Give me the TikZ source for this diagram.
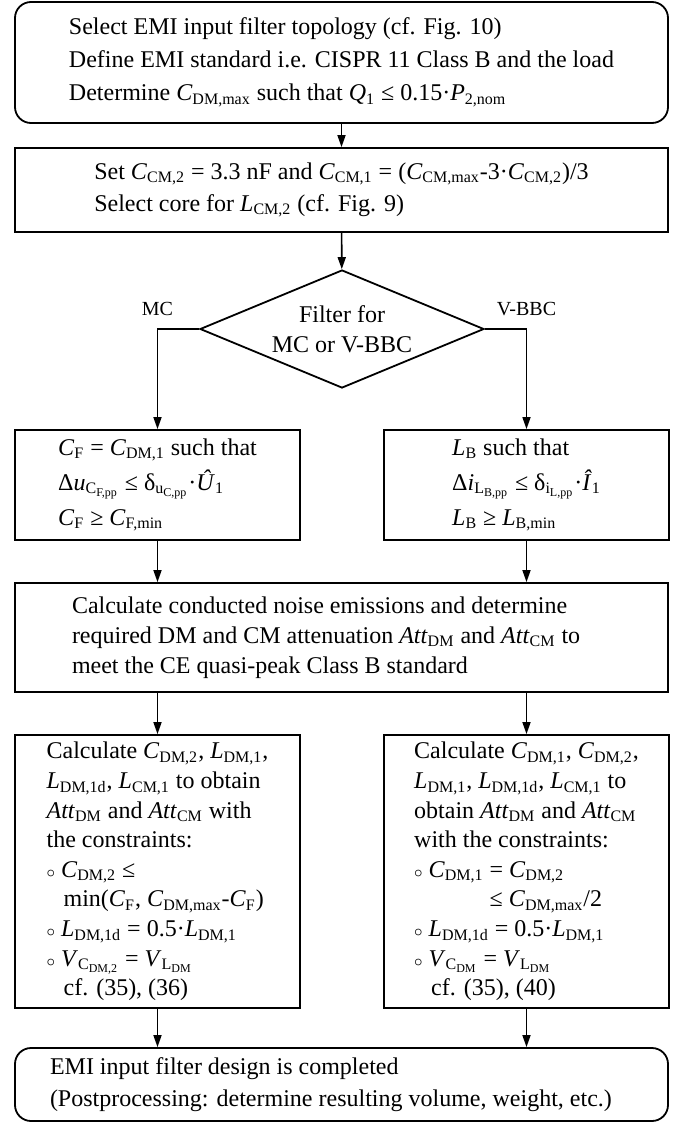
\documentclass[tikz,border=0pt]{standalone}
\usepackage{fontspec}
\setmainfont{Liberation Serif}
\usepackage{tikz}
\usetikzlibrary{arrows.meta, shapes.geometric}
\newcommand{\mvar}[2]{\textit{#1}\textsubscript{#2}}
\newcommand{\bul}{$\scriptstyle\circ$\ }

\begin{document}
\begin{tikzpicture}[x=0.5pt, y=-0.5pt,
  box node/.style={rectangle, draw, line width=0.9pt, align=left, inner sep=0pt,
    font=\fontsize{12}{15}\selectfont},
  wide node/.style={box node, minimum width=326.5pt},
  half node/.style={box node, minimum width=142.5pt},
  end node/.style={wide node, rounded corners=8pt},
  pad/.style 2 args={inner xsep=#1, text width=#2, align=flush left},
  test node/.style={diamond, draw, line width=0.9pt, aspect=2.4, inner sep=0pt,
    minimum width=142pt, minimum height=59pt, align=center, font=\fontsize{12}{15}\selectfont},
  flow/.style={line width=0.8pt, -{Triangle[length=6pt,width=4pt]}}]

\useasboundingbox (0,0) rectangle (682,1125);

\node[end node, minimum height=60.5pt, font=\fontsize{12}{16.5}\selectfont] (select) at (341.5,62.5)
  {Select EMI input filter topology (cf. Fig. 10)\\
   Define EMI standard i.e. CISPR 11 Class B and the load\\
   Determine \mvar{C}{DM,max} such that \mvar{Q}{1} ≤ 0.15·\mvar{P}{2,nom}};
\node[wide node, minimum height=42pt, font=\fontsize{12}{16}\selectfont] (core) at (341.5,190)
  {Set \mvar{C}{CM,2} = 3.3 nF and \mvar{C}{CM,1} = (\mvar{C}{CM,max}-3·\mvar{C}{CM,2})/3\\
   Select core for \mvar{L}{CM,2} (cf. Fig. 9)};
\node[test node] (choice) at (342,329) {Filter for\\MC or V-BBC};

\node[half node, minimum height=55pt, font=\fontsize{12}{17.5}\selectfont] (mc) at (157.5,485)
  {\mvar{C}{F} = \mvar{C}{DM,1} such that\\
   Δ\mvar{u}{C\textsubscript{F,pp}} ≤ δ\textsubscript{u\textsubscript{C,pp}}·\textit{Û}\textsubscript{1}\\
   \mvar{C}{F} ≥ \mvar{C}{F,min}};
\node[half node, minimum height=55pt, font=\fontsize{12}{17.5}\selectfont] (bbc) at (526.5,485)
  {\mvar{L}{B} such that\\
   Δ\mvar{i}{L\textsubscript{B,pp}} ≤ δ\textsubscript{i\textsubscript{L,pp}}·\textit{Î}\textsubscript{1}\\
   \mvar{L}{B} ≥ \mvar{L}{B,min}};

\node[wide node, minimum height=54.5pt, pad={28.5pt}{269.5pt}] (noise) at (341.5,637.5)
  {Calculate conducted noise emissions and determine\\
   required DM and CM attenuation \mvar{Att}{DM} and \mvar{Att}{CM} to\\
   meet the CE quasi-peak Class B standard};

\node[half node, minimum height=136.5pt, font=\fontsize{12}{14.8}\selectfont] (mcdim) at (157.5,871.5)
  {Calculate \mvar{C}{DM,2}, \mvar{L}{DM,1},\\
   \mvar{L}{DM,1d}, \mvar{L}{CM,1} to obtain\\
   \mvar{Att}{DM} and \mvar{Att}{CM} with\\
   the constraints:\\
   \bul\mvar{C}{DM,2} ≤\\
   \hspace*{8.5pt}min(\mvar{C}{F}, \mvar{C}{DM,max}-\mvar{C}{F})\\
   \bul\mvar{L}{DM,1d} = 0.5·\mvar{L}{DM,1}\\
   \bul\mvar{V}{C\textsubscript{DM,2}} = \mvar{V}{L\textsubscript{DM}}\\
   \hspace*{8.5pt}cf. (35), (36)};
\node[half node, minimum height=136.5pt, font=\fontsize{12}{14.8}\selectfont] (bbcdim) at (526.5,871.5)
  {Calculate \mvar{C}{DM,1}, \mvar{C}{DM,2},\\
   \mvar{L}{DM,1}, \mvar{L}{DM,1d}, \mvar{L}{CM,1} to\\
   obtain \mvar{Att}{DM} and \mvar{Att}{CM}\\
   with the constraints:\\
   \bul\mvar{C}{DM,1} = \mvar{C}{DM,2}\\
   \phantom{\bul\mvar{C}{DM,1} }≤ \mvar{C}{DM,max}/2\\
   \bul\mvar{L}{DM,1d} = 0.5·\mvar{L}{DM,1}\\
   \bul\mvar{V}{C\textsubscript{DM}} = \mvar{V}{L\textsubscript{DM}}\\
   \hspace*{8.5pt}cf. (35), (40)};

\node[end node, minimum height=36.5pt, pad={17.5pt}{291.5pt}, font=\fontsize{12}{16}\selectfont] (done) at (341.5,1084.5)
  {EMI input filter design is completed\\
   (Postprocessing: determine resulting volume, weight, etc.)};

% connectors
\draw[flow] (select) -- (core);
\draw[flow] (core) -- (choice);
\draw[flow] (choice.west) -| node[pos=0.5, above=3pt] {MC} (mc.north);
\draw[flow] (choice.east) -| node[pos=0.5, above=3pt] {V-BBC} (bbc.north);
\draw[flow] (mc.south) -- (mc.south |- noise.north);
\draw[flow] (bbc.south) -- (bbc.south |- noise.north);
\draw[flow] (noise.south -| mcdim.north) -- (mcdim.north);
\draw[flow] (noise.south -| bbcdim.north) -- (bbcdim.north);
\draw[flow] (mcdim.south) -- (mcdim.south |- done.north);
\draw[flow] (bbcdim.south) -- (bbcdim.south |- done.north);
\end{tikzpicture}
\end{document}
